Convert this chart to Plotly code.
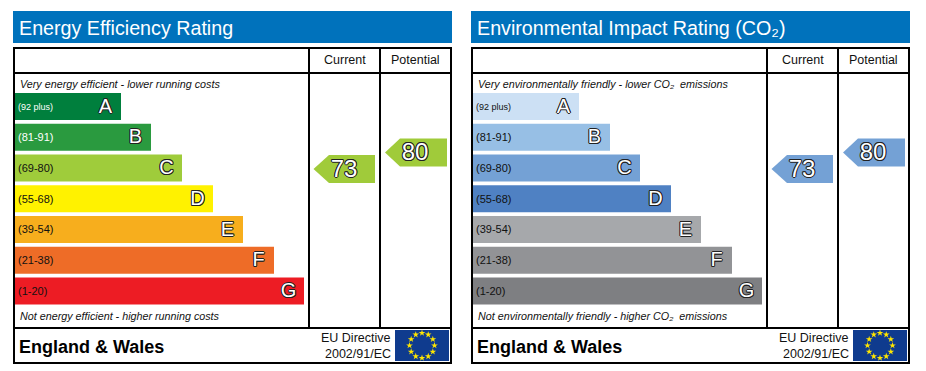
import math
import plotly.graph_objects as go

# ---------- data ----------
bands = ["A", "B", "C", "D", "E", "F", "G"]
band_ranges = ["(92 plus)", "(81-91)", "(69-80)", "(55-68)", "(39-54)", "(21-38)", "(1-20)"]
energy_lengths = [106, 136, 167, 198, 228, 259, 289]
impact_lengths = [106, 137, 167, 198, 228, 259, 289]

energy_colors = ["#007F3D", "#2A9A3F", "#9FCC3B", "#FFF200", "#F7AE1D", "#EE6C27", "#ED1C24"]
energy_label_colors = ["#FFFFFF", "#FFFFFF", "#111111", "#111111", "#111111", "#111111", "#111111"]
impact_colors = ["#CCE0F4", "#97BFE5", "#74A1D5", "#4F81C3", "#A6A8AB", "#929396", "#7E7F82"]
impact_label_colors = ["#111111"] * 7

energy_current, energy_potential = 73, 80
impact_current, impact_potential = 73, 80
energy_arrow_color = "#A0CB3A"
impact_arrow_color = "#74A1D5"

energy_title = "Energy Efficiency Rating"
impact_title = "Environmental Impact Rating (CO₂)"
energy_top = "Very energy efficient - lower running costs"
energy_bottom = "Not energy efficient - higher running costs"
impact_top = "Very environmentally friendly - lower CO₂  emissions"
impact_bottom = "Not environmentally friendly - higher CO₂  emissions"
col_current, col_potential = "Current", "Potential"
region = "England & Wales"
directive = ["EU Directive", "2002/91/EC"]

# ---------- layout constants (page pixels) ----------
W, H = 926, 371
OFFSET = 458  # horizontal distance between the two panels
FONT = "Liberation Sans"
BLUE = "#0072BC"
OUTLINE = ("-1px 0 #222,1px 0 #222,0 -1px #222,0 1px #222,"
           "-0.7px -0.7px #222,0.7px -0.7px #222,-0.7px 0.7px #222,0.7px 0.7px #222")
STAR_COUNT = 12

PX_PER_RATING = 2.357
RATING_TOP_VALUE = 73 + 169 / PX_PER_RATING      # rating at page y=0
RATING_BOTTOM_VALUE = 73 - (H - 169) / PX_PER_RATING  # rating at page y=H
ARROW_HALF = 14 / PX_PER_RATING
ARROW_TEXT_SHIFT = 1.5 / PX_PER_RATING

fig = go.Figure()


def add_panel(lengths, colors, label_colors, xa, ya, ya_text):
    fig.add_trace(go.Bar(
        y=bands, x=lengths, orientation="h", marker=dict(color=colors, line_width=0),
        xaxis=xa, yaxis=ya, hoverinfo="skip", showlegend=False, width=0.877))
    fig.add_trace(go.Scatter(
        y=bands, x=[3] * len(bands), mode="text", text=band_ranges, textposition="middle right",
        textfont=dict(family=FONT, size=[9] + [11] * 6, color=label_colors),
        xaxis=xa, yaxis=ya_text, hoverinfo="skip", showlegend=False))
    fig.add_trace(go.Scatter(
        y=bands, x=[v - 15.5 for v in lengths], mode="text", text=bands,
        textposition="middle center",
        textfont=dict(family=FONT, size=20, color="#FFFFFF", shadow=OUTLINE),
        xaxis=xa, yaxis=ya_text, hoverinfo="skip", showlegend=False))


def add_arrow(value, tip, neck, end, color, cx):
    xs = [tip, neck, end, end, neck, tip]
    ys = [value, value + ARROW_HALF, value + ARROW_HALF, value - ARROW_HALF, value - ARROW_HALF, value]
    fig.add_trace(go.Scatter(
        x=xs, y=ys, mode="lines", fill="toself", fillcolor=color, line=dict(width=0),
        xaxis="x3", yaxis="y3", hoverinfo="skip", showlegend=False))
    fig.add_trace(go.Scatter(
        x=[cx], y=[value - ARROW_TEXT_SHIFT], mode="text", text=[str(value)], textposition="middle center",
        textfont=dict(family=FONT, size=24, color="#FFFFFF", shadow=OUTLINE),
        xaxis="x3", yaxis="y3", hoverinfo="skip", showlegend=False))


add_panel(energy_lengths, energy_colors, energy_label_colors, "x", "y", "y5")
add_panel(impact_lengths, impact_colors, impact_label_colors, "x2", "y2", "y6")

add_arrow(energy_current, 313.5, 329, 375, energy_arrow_color, 344)
add_arrow(energy_potential, 385, 400, 447, energy_arrow_color, 415)
add_arrow(impact_current, 313.5 + OFFSET, 329 + OFFSET, 375 + OFFSET, impact_arrow_color, 344 + OFFSET)
add_arrow(impact_potential, 385 + OFFSET, 400 + OFFSET, 447 + OFFSET, impact_arrow_color, 415 + OFFSET)

# EU flag stars
for dx in (0, OFFSET):
    fig.add_trace(go.Scatter(
        x=[422 + dx + 12.5 * math.sin(2 * math.pi * i / STAR_COUNT) for i in range(STAR_COUNT)],
        y=[345.5 - 12.5 * math.cos(2 * math.pi * i / STAR_COUNT) for i in range(STAR_COUNT)],
        mode="markers", marker=dict(symbol="star", size=5, color="#FFE600", line_width=0),
        xaxis="x3", yaxis="y4", hoverinfo="skip", showlegend=False))

shapes, annotations = [], []


def line(x0, y0, x1, y1):
    shapes.append(dict(type="line", xref="x3", yref="y4", x0=x0, y0=y0, x1=x1, y1=y1,
                       line=dict(color="#000000", width=2), layer="above"))


def rect(x0, y0, x1, y1, color):
    shapes.append(dict(type="rect", xref="x3", yref="y4", x0=x0, y0=y0, x1=x1, y1=y1,
                       fillcolor=color, line_width=0, layer="below"))


def label(x, y, text, size, anchor="left", color="#111111", **font):
    annotations.append(dict(xref="x3", yref="y4", x=x, y=y, text=text, showarrow=False,
                            xanchor=anchor, yanchor="middle", borderpad=0, borderwidth=0,
                            font=dict(family=FONT, size=size, color=color, **font)))


def chrome(dx, title, top, bottom):
    rect(13 + dx, 11, 452 + dx, 43, BLUE)
    label(19 + dx, 27.5, title, 19.7, color="#FFFFFF")
    for x0, y0, x1, y1 in [
        (13, 48, 452, 48), (13, 73, 451, 73), (13, 328, 452, 328), (13, 363, 452, 363),
        (14, 47, 14, 364), (451, 47, 451, 364), (309, 48, 309, 328), (380, 48, 380, 328),
    ]:
        line(x0 + dx, y0, x1 + dx, y1)
    label(344.5 + dx, 60, col_current, 12.5, "center")
    label(415.5 + dx, 60, col_potential, 12.5, "center")
    label(20 + dx, 84, top, 10.75, style="italic")
    label(20 + dx, 316, bottom, 10.75, style="italic")
    label(19 + dx, 346.5, "<b>" + region + "</b>", 18, color="#000000")
    label(390.5 + dx, 338, directive[0], 12.5, "right")
    label(390.5 + dx, 353.5, directive[1], 12.5, "right")
    rect(395 + dx, 330, 449 + dx, 361, "#0F3B8E")


chrome(0, energy_title, energy_top, energy_bottom)
chrome(OFFSET, impact_title, impact_top, impact_bottom)

hidden = dict(visible=False, showgrid=False, zeroline=False, fixedrange=True)
BAND_TOP, BAND_BOTTOM = 91.1, 306.4
TEXT_DROP = 1.2
band_axis = dict(type="category", categoryorder="array", categoryarray=bands,
                 autorange=False, range=[6.5, -0.5], **hidden)
fig.update_layout(
    width=W, height=H, margin=dict(l=0, r=0, t=0, b=0, pad=0), autosize=False,
    paper_bgcolor="#FFFFFF", plot_bgcolor="rgba(0,0,0,0)", barmode="overlay",
    xaxis=dict(domain=[15 / W, 304 / W], range=[0, 289], **hidden),
    xaxis2=dict(domain=[(15 + OFFSET) / W, (304 + OFFSET) / W], range=[0, 289], anchor="y2", **hidden),
    xaxis3=dict(domain=[0, 1], range=[0, W], anchor="y3", **hidden),
    yaxis=dict(domain=[1 - BAND_BOTTOM / H, 1 - BAND_TOP / H], anchor="x", **band_axis),
    yaxis2=dict(domain=[1 - BAND_BOTTOM / H, 1 - BAND_TOP / H], anchor="x2", **band_axis),
    yaxis3=dict(domain=[0, 1], range=[RATING_BOTTOM_VALUE, RATING_TOP_VALUE], anchor="x3", **hidden),
    yaxis4=dict(domain=[0, 1], range=[H, 0], anchor="x3", overlaying="y3", **hidden),
    yaxis5=dict(domain=[1 - (BAND_BOTTOM + TEXT_DROP) / H, 1 - (BAND_TOP + TEXT_DROP) / H],
                anchor="x", **band_axis),
    yaxis6=dict(domain=[1 - (BAND_BOTTOM + TEXT_DROP) / H, 1 - (BAND_TOP + TEXT_DROP) / H],
                anchor="x2", **band_axis),
    shapes=shapes, annotations=annotations,
)

fig.write_html("out.html", config={"displayModeBar": False},
               post_script="document.body.style.margin='0';document.body.style.overflow='hidden';")
